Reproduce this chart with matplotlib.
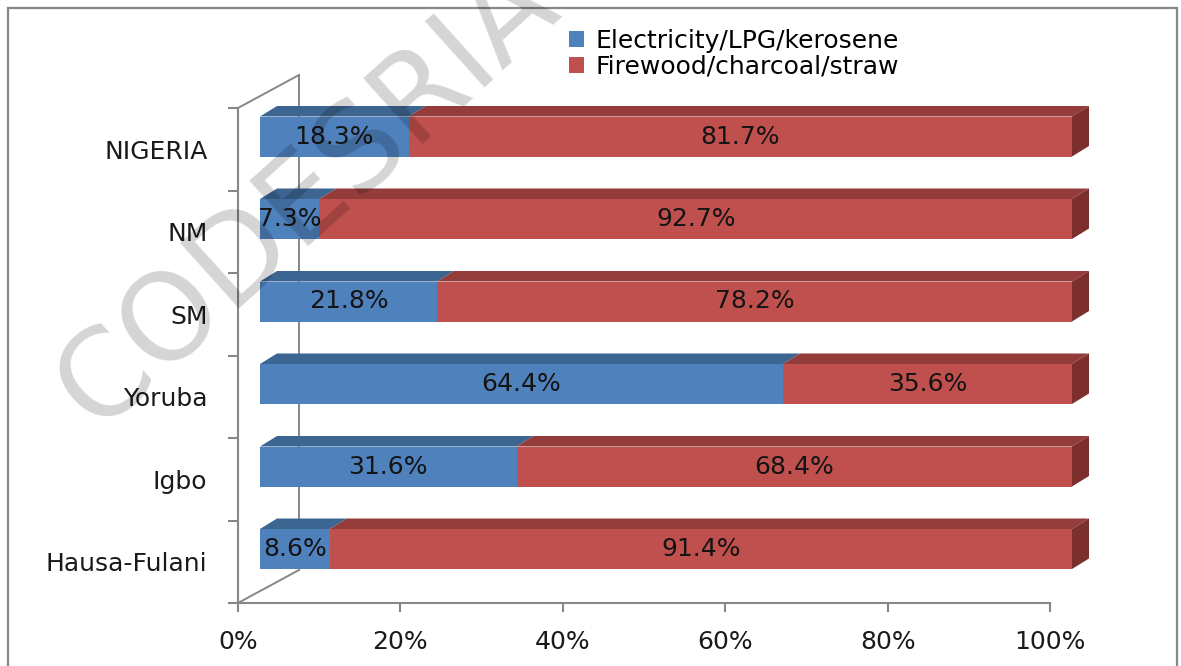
import matplotlib
matplotlib.use("Agg")
import matplotlib.pyplot as plt
from matplotlib.patches import Polygon, Rectangle, Patch
from matplotlib.lines import Line2D

plt.rcParams["font.family"] = ["DejaVu Sans"]

# ---- data -------------------------------------------------------------
categories = ["Hausa-Fulani", "Igbo", "Yoruba", "SM", "NM", "NIGERIA"]
modern_fuel = [8.6, 31.6, 64.4, 21.8, 7.3, 18.3]      # Electricity/LPG/kerosene
solid_fuel = [91.4, 68.4, 35.6, 78.2, 92.7, 81.7]     # Firewood/charcoal/straw
series_names = ["Electricity/LPG/kerosene", "Firewood/charcoal/straw"]
xtick_values = [0, 20, 40, 60, 80, 100]
xtick_labels = ["0%", "20%", "40%", "60%", "80%", "100%"]

# ---- style ------------------------------------------------------------
FRONT = ["#4F81BD", "#C0504D"]
TOP = ["#3D6592", "#933C3A"]
SIDE = ["#345783", "#7C2F2D"]
GRID = "#878787"
FS = 18

W, H = 1181, 666
fig = plt.figure(figsize=(W / 100, H / 100), dpi=100)
ax = fig.add_axes([238 / W, (H - 603) / H, 812 / W, 495 / H])
ax.set_xlim(0, 100)
ax.set_ylim(-0.5, len(categories) - 0.5)
ax.patch.set_visible(False)

# pseudo-3D geometry (data units)
px_x = 812 / 100.0          # pixels per percent
px_y = 495 / len(categories)  # pixels per category
shift_x, shift_y = 22 / px_x, 12.75 / px_y      # bar front plane offset
depth_x, depth_y = 17 / px_x, 10.5 / px_y       # bar depth
half_h = 20 / px_y                              # half bar thickness
wall_x, wall_y = 61 / px_x, 33 / px_y           # back wall offset

ymin, ymax = ax.get_ylim()
# back wall / floor edges
wall_kw = dict(color=GRID, lw=1.4, clip_on=False, zorder=1)
ax.add_line(Line2D([0, wall_x], [ymax, ymax + wall_y], **wall_kw))
ax.add_line(Line2D([0, wall_x], [ymin, ymin + wall_y], **wall_kw))
ax.add_line(Line2D([wall_x, wall_x], [ymin + wall_y, ymax + wall_y], **wall_kw))


def add_poly(pts, color, z):
    ax.add_patch(Polygon(pts, closed=True, facecolor=color, edgecolor="none",
                         clip_on=False, zorder=z))


for i, cat in enumerate(categories):
    yc = i + shift_y
    yb, yt = yc - half_h, yc + half_h
    left = 0.0
    segs = [modern_fuel[i], solid_fuel[i]]
    for k, val in enumerate(segs):
        x0 = shift_x + left
        x1 = shift_x + left + val
        # top face
        add_poly([(x0, yt), (x1, yt), (x1 + depth_x, yt + depth_y),
                  (x0 + depth_x, yt + depth_y)], TOP[k], 3)
        # front face
        add_poly([(x0, yb), (x1, yb), (x1, yt), (x0, yt)], FRONT[k], 4)
        if k == len(segs) - 1:
            add_poly([(x1, yb), (x1 + depth_x, yb + depth_y),
                      (x1 + depth_x, yt + depth_y), (x1, yt)], SIDE[k], 3)
        ax.text((x0 + x1) / 2, yc, f"{val:.1f}%", ha="center", va="center",
                fontsize=FS, color="#141414", zorder=6, clip_on=False)
        left += val

# axes, ticks, labels
for side in ["top", "right"]:
    ax.spines[side].set_visible(False)
for side in ["left", "bottom"]:
    ax.spines[side].set_color(GRID)
    ax.spines[side].set_linewidth(1.5)

ax.set_xticks(xtick_values)
ax.set_xticklabels(xtick_labels, fontsize=FS, color="#1a1a1a")
ax.tick_params(axis="x", length=6.5, width=1.5, color=GRID, pad=13)

ax.set_yticks([b - 0.5 for b in range(len(categories) + 1)])
ax.set_yticklabels([])
ax.set_yticks(range(len(categories)), minor=True)
ax.set_yticklabels(categories, minor=True, fontsize=FS, color="#1a1a1a")
ax.tick_params(axis="y", which="major", length=7.2, width=1.5, color=GRID)
ax.tick_params(axis="y", which="minor", length=0, pad=22)

# legend
handles = [Patch(facecolor=FRONT[0]), Patch(facecolor=FRONT[1])]
fig.legend(handles, series_names, loc="upper left",
           bbox_to_anchor=(569 / W, 1 - 29 / H), frameon=False, fontsize=FS,
           handlelength=0.6, handleheight=0.6, handletextpad=0.45,
           labelspacing=0.08, borderpad=0, borderaxespad=0)

# chart area border
fig.patches.append(Rectangle((8 / W, -0.1), (1177 - 8) / W, 1.1 - 8 / H,
                             transform=fig.transFigure, fill=False,
                             edgecolor=GRID, lw=1.6, zorder=1))

# watermark
fig.text(307 / W, 1 - 196 / H, "CODESRIA", rotation=42, rotation_mode="anchor",
         ha="center", va="center", fontsize=87, color="black", alpha=0.17,
         zorder=20)

fig.savefig("out.png", dpi=100)
